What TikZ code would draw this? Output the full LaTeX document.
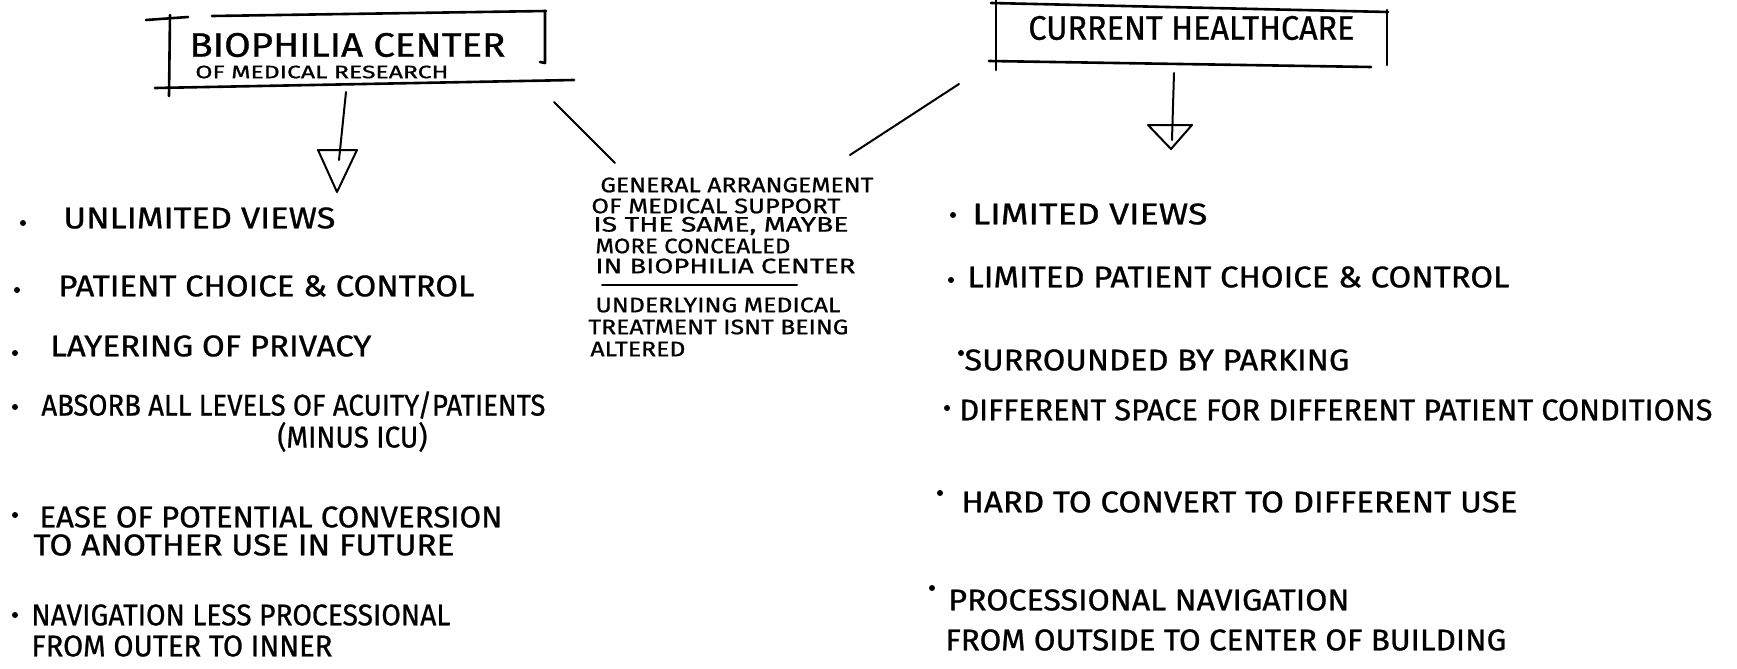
\documentclass[tikz,border=0pt]{standalone}
\usepackage{fontspec}
\setmainfont{Fira Sans}[FakeBold=0.8]
\usepackage{graphicx}
\newcommand\fitto[2]{\resizebox{#1}{\height}{#2}}
\begin{document}
\begin{tikzpicture}[x=0.5pt,y=-0.5pt,
  hand/.style={line width=1.3pt,line cap=round,line join=round},
  thin/.style={line width=1pt,line cap=round,line join=round},
  txt/.style={anchor=west,inner sep=0pt,font=\fontsize{15}{18}\selectfont},
  mid/.style={anchor=west,inner sep=0pt,font=\fontsize{10.5}{12}\selectfont},
  ttl/.style={anchor=west,inner sep=0pt,font=\fontsize{17}{19}\selectfont},
  dot/.style={circle,fill,inner sep=0pt,minimum size=3pt}]
\fill[white] (0,0) rectangle (1737,669);
\useasboundingbox (0,0) rectangle (1737,669);

% ---- left title box
\node[ttl] (lt1) at (189,45) {\fitto{158pt}{BIOPHILIA CENTER}};
\node[anchor=west,inner sep=0pt,font=\fontsize{9}{10}\selectfont] (lt2) at (195,72) {\fitto{126.5pt}{OF MEDICAL RESEARCH}};
\draw[hand] (212,16) -- (546,11);
\draw[hand] (170,15) -- (169,96);
\draw[hand] (146,20) -- (188,17);
\draw[hand] (545,11) -- (545,63) -- (540,62);
\draw[hand] (155,88) -- (574,80);

% ---- right title box
\node[ttl] (rt1) at (1028,28) {\fitto{163pt}{CURRENT HEALTHCARE}};
\draw[hand] (991,3) -- (1388,12);
\draw[hand] (996,0) -- (996,70);
\draw[hand] (1387,10) -- (1387,65);
\draw[hand] (989,61) -- (1371,67);

% ---- arrows down
\coordinate (la0) at (346,92);
\coordinate (la1) at (339,160);
\draw[thin] (la0) -- (la1);
\draw[thin] (318,150) -- (357,150) -- (337,192) -- cycle;
\coordinate (ra0) at (1174,73);
\coordinate (ra1) at (1172,140);
\draw[thin] (ra0) -- (ra1);
\draw[thin] (1148,125) -- (1192,125) -- (1171,149) -- cycle;

% ---- diagonals to middle note
\coordinate (ld0) at (554,102);
\coordinate (ld1) at (615,163);
\draw[thin] (ld0) -- (ld1);
\coordinate (rd0) at (959,84);
\coordinate (rd1) at (850,155);
\draw[thin] (rd0) -- (rd1);

% ---- middle note
\node[mid] (m1) at (600,185) {\fitto{136.5pt}{GENERAL ARRANGEMENT}};
\node[mid] (m2) at (591,206) {\fitto{124.5pt}{OF MEDICAL SUPPORT}};
\node[mid] (m3) at (593,226) {\fitto{127.5pt}{IS THE SAME, MAYBE}};
\node[mid] (m4) at (595,246) {\fitto{97.5pt}{MORE CONCEALED}};
\node[mid] (m5) at (595,266) {\fitto{130pt}{IN BIOPHILIA CENTER}};
\draw[thin] (602,285) -- (797,285);
\node[mid] (m6) at (595,305) {\fitto{122.5pt}{UNDERLYING MEDICAL}};
\node[mid] (m7) at (588,327) {\fitto{130pt}{TREATMENT ISNT BEING}};
\node[mid] (m8) at (590,349) {\fitto{47.5pt}{ALTERED}};

% ---- left list
\node[dot] (ld1b) at (23,223) {};
\node[txt] (l1) at (63,218) {\fitto{136pt}{UNLIMITED VIEWS}};
\node[dot] (ld2b) at (17,290) {};
\node[txt] (l2) at (58,286) {\fitto{208pt}{PATIENT CHOICE \& CONTROL}};
\node[dot] (ld3b) at (15,353) {};
\node[txt] (l3) at (50,346) {\fitto{160.5pt}{LAYERING OF PRIVACY}};
\node[dot] (ld4b) at (15,407) {};
\node[txt] (l4) at (41,405) {\fitto{252pt}{ABSORB ALL LEVELS OF ACUITY/PATIENTS}};
\node[txt] (l4b) at (277,437) {\fitto{75pt}{(MINUS ICU)}};
\node[dot] (ld5b) at (15,515) {};
\node[txt] (l5) at (39,517) {\fitto{231.5pt}{EASE OF POTENTIAL CONVERSION}};
\node[txt] (l5b) at (33,545) {\fitto{210.5pt}{TO ANOTHER USE IN FUTURE}};
\node[dot] (ld6b) at (15,615) {};
\node[txt] (l6) at (31,615) {\fitto{209.5pt}{NAVIGATION LESS PROCESSIONAL}};
\node[txt] (l6b) at (31,646) {\fitto{150.5pt}{FROM OUTER TO INNER}};

% ---- right list
\node[dot] (rd1b) at (953,215) {};
\node[txt] (r1) at (972,214) {\fitto{117.5pt}{LIMITED VIEWS}};
\node[dot] (rd2b) at (951,280) {};
\node[txt] (r2) at (967,277) {\fitto{271pt}{LIMITED PATIENT CHOICE \& CONTROL}};
\node[dot] (rd3b) at (961,353) {};
\node[txt] (r3) at (964,360) {\fitto{192.5pt}{SURROUNDED BY PARKING}};
\node[dot] (rd4b) at (947,408) {};
\node[txt] (r4) at (959,410) {\fitto{376.5pt}{DIFFERENT SPACE FOR DIFFERENT PATIENT CONDITIONS}};
\node[dot] (rd5b) at (940,493) {};
\node[txt] (r5) at (961,502) {\fitto{278pt}{HARD TO CONVERT TO DIFFERENT USE}};
\node[dot] (rd6b) at (932,588) {};
\node[txt] (r6) at (948,600) {\fitto{200.5pt}{PROCESSIONAL NAVIGATION}};
\node[txt] (r6b) at (945,640) {\fitto{280.5pt}{FROM OUTSIDE TO CENTER OF BUILDING}};
\end{tikzpicture}
\end{document}
